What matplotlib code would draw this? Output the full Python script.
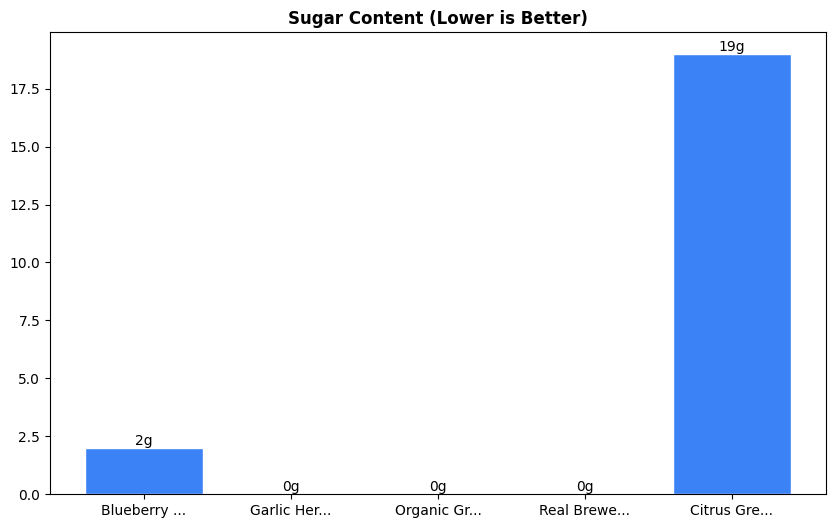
import matplotlib
matplotlib.use("Agg")
import matplotlib.pyplot as plt

categories = ["Blueberry ...", "Garlic Her...", "Organic Gr...", "Real Brewe...", "Citrus Gre..."]
sugar = [2, 0, 0, 0, 19]
labels = ["2g", "0g", "0g", "0g", "19g"]

fig = plt.figure(figsize=(8.35, 5.28), dpi=100)
ax = fig.add_axes([50/835, 34/528, 776/835, 462/528])
bars = ax.bar(categories, sugar, color="#3b82f6", edgecolor="white", width=0.8)
for b, t in zip(bars, labels):
    ax.text(b.get_x() + b.get_width()/2, b.get_height(), t, ha="center", va="bottom", fontsize=10)
ax.set_title("Sugar Content (Lower is Better)", fontweight="bold", fontsize=12)
fig.savefig("out.png", dpi=100)
